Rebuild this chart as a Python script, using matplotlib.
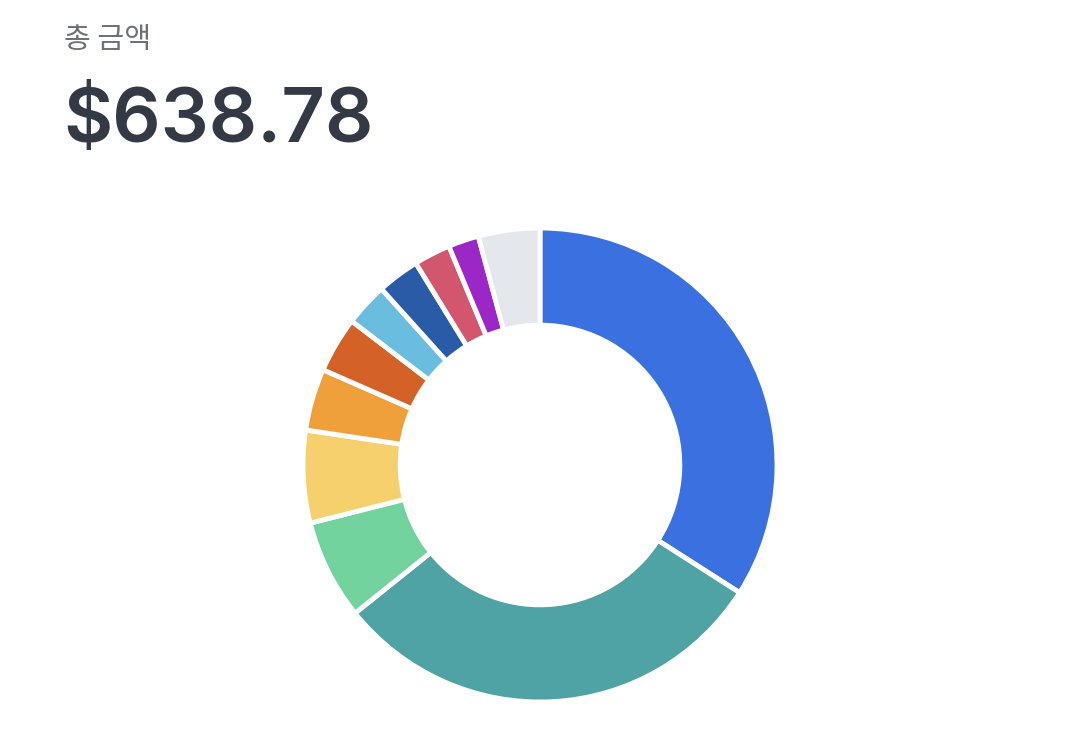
import matplotlib.pyplot as plt

# spending by category (USD), clockwise from top
amounts = [217.54, 192.88, 43.47, 40.28, 26.97, 24.31, 18.81, 18.45, 15.97, 13.31, 26.79]
colors = ['#3B70E0', '#4FA3A5', '#72D39E', '#F7D06E', '#F0A03A', '#D46127',
          '#6BBDE0', '#2A5BA6', '#D3566F', '#9B27C6', '#E4E7EB']
title = '총 금액'
total = sum(amounts)

W, H = 1080, 734
fig = plt.figure(figsize=(W / 100, H / 100), dpi=100)
fig.patch.set_facecolor('white')

# header text
fig.text(64 / W, 1 - 48 / H, title, fontsize=21, color='#6E7277',
         family=['Noto Sans CJK KR', 'DejaVu Sans'], va='baseline', ha='left')
fig.text(63 / W, 1 - 142 / H, f'${total:.2f}', fontsize=54.5, color='#333A45',
         family=['Inter', 'DejaVu Sans'], fontweight='semibold',
         va='baseline', ha='left')

# donut
cx, cy, r = 540, 465, 237
pad = 1.05
ax = fig.add_axes([(cx - r * pad) / W, (H - cy - r * pad) / H,
                   2 * r * pad / W, 2 * r * pad / H])
ax.pie(amounts, colors=colors, startangle=90, counterclock=False, radius=1,
       wedgeprops=dict(width=0.41, edgecolor='white', linewidth=3.5))
ax.set_xlim(-pad, pad)
ax.set_ylim(-pad, pad)
ax.set_aspect('equal')
ax.axis('off')

plt.savefig('out.png', dpi=100, facecolor='white')
plt.close()
